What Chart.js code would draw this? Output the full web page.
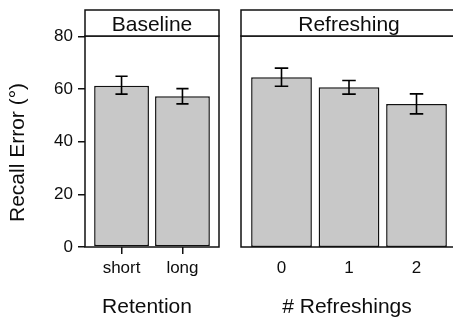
<!DOCTYPE html>
<html>
<head>
<meta charset="utf-8">
<script src="https://cdn.jsdelivr.net/npm/chart.js@4.4.1/dist/chart.umd.min.js"></script>
<style>
  html, body { margin: 0; padding: 0; background: #fff; overflow: hidden; }
  #wrap { position: relative; width: 453px; height: 320px; overflow: hidden; }
  #left { position: absolute; left: 0; top: 0; }
  #right { position: absolute; left: 230px; top: 0; }
</style>
</head>
<body>
<div id="wrap">
  <canvas id="left" width="230" height="320"></canvas>
  <canvas id="right" width="240" height="320"></canvas>
</div>
<script>
const retentionLabels = ['short', 'long'];
const retentionMeans = [61.3, 57.3];
const retentionLow = [58.1, 54.4];
const retentionHigh = [64.9, 60.2];

const refreshLabels = ['0', '1', '2'];
const refreshMeans = [64.5, 60.7, 54.4];
const refreshLow = [61.1, 58.1, 50.6];
const refreshHigh = [68.0, 63.3, 58.2];

const yTicks = [0, 20, 40, 60, 80];

const textColor = '#0d0d0d';
const tickFont = { family: '"Liberation Sans", Arial, sans-serif', size: 17 };
const bigFont = '21px "Liberation Sans", Arial, sans-serif';

// error bars, panel box, facet strip and axis titles
const facetPlugin = {
    id: 'facet',
    afterDatasetsDraw(chart, args, opts) {
        const { ctx, chartArea: a, scales: { x, y } } = chart;
        const half = x.getPixelForValue(0.1) - x.getPixelForValue(0);
        ctx.save();
        ctx.strokeStyle = '#000';
        ctx.lineWidth = 1.6;
        opts.low.forEach((lo, i) => {
            const px = x.getPixelForValue(i);
            const y1 = y.getPixelForValue(lo);
            const y2 = y.getPixelForValue(opts.high[i]);
            ctx.beginPath();
            ctx.moveTo(px, y1); ctx.lineTo(px, y2);
            ctx.moveTo(px - half, y1); ctx.lineTo(px + half, y1);
            ctx.moveTo(px - half, y2); ctx.lineTo(px + half, y2);
            ctx.stroke();
        });

        ctx.lineWidth = 1.5;
        ctx.strokeStyle = '#111';
        ctx.strokeRect(a.left, a.top, a.right - a.left, a.bottom - a.top);

        ctx.fillStyle = '#fff';
        ctx.fillRect(a.left, 10, a.right - a.left, a.top - 10);
        ctx.strokeRect(a.left, 10, a.right - a.left, a.top - 10);

        ctx.fillStyle = textColor;
        ctx.font = bigFont;
        ctx.textAlign = 'center';
        ctx.textBaseline = 'alphabetic';
        ctx.fillText(opts.strip, (a.left + a.right) / 2, 31);
        ctx.fillText(opts.xTitle, opts.xTitleX, 312.5);

        if (opts.yTitle) {
            ctx.translate(24, 152.5);
            ctx.rotate(-Math.PI / 2);
            ctx.fillText(opts.yTitle, 0, 0);
        }
        ctx.restore();
    }
};

function makePanel(id, labels, means, low, high, opts) {
    const ctx = document.getElementById(id).getContext('2d');
    return new Chart(ctx, {
        type: 'bar',
        data: {
            datasets: [{
                data: means.map((v, i) => ({ x: i, y: v })),
                backgroundColor: '#c8c8c8',
                borderColor: '#111',
                borderWidth: 1.5,
                borderSkipped: false,
                categoryPercentage: 1,
                barPercentage: 0.9
            }]
        },
        options: {
            responsive: false,
            animation: false,
            layout: { padding: opts.padding },
            plugins: {
                legend: { display: false },
                tooltip: { enabled: false },
                facet: {
                    low: low,
                    high: high,
                    strip: opts.strip,
                    xTitle: opts.xTitle,
                    xTitleX: opts.xTitleX,
                    yTitle: opts.yTitle
                }
            },
            scales: {
                x: {
                    type: 'linear',
                    min: -0.6,
                    max: labels.length - 0.4,
                    offset: false,
                    afterBuildTicks: (scale) => {
                        scale.ticks = labels.map((l, i) => ({ value: i }));
                    },
                    afterFit: (scale) => { scale.height = 73; },
                    grid: {
                        offset: false,
                        drawOnChartArea: false,
                        drawTicks: true,
                        tickLength: 7,
                        lineWidth: 1.5,
                        color: opts.xTickMarks ? '#111' : 'rgba(0,0,0,0)'
                    },
                    border: { display: false },
                    ticks: {
                        color: textColor,
                        font: tickFont,
                        padding: 4,
                        maxRotation: 0,
                        autoSkip: false,
                        callback: (v) => labels[v]
                    }
                },
                y: {
                    display: opts.showY,
                    min: 0,
                    max: 80.2,
                    afterBuildTicks: (scale) => {
                        scale.ticks = yTicks.map(v => ({ value: v }));
                    },
                    afterFit: (scale) => { scale.width = opts.showY ? 85 : 0; },
                    grid: {
                        drawOnChartArea: false,
                        drawTicks: true,
                        tickLength: 7,
                        lineWidth: 1.5,
                        color: '#111'
                    },
                    border: { display: false },
                    ticks: {
                        color: textColor,
                        font: tickFont,
                        padding: 5
                    }
                }
            }
        },
        plugins: [facetPlugin]
    });
}

makePanel('left', retentionLabels, retentionMeans, retentionLow, retentionHigh, {
    padding: { top: 36, right: 11, left: 0, bottom: 0 },
    strip: 'Baseline',
    xTitle: 'Retention',
    xTitleX: 147,
    yTitle: 'Recall Error (°)',
    showY: true,
    xTickMarks: true
});

makePanel('right', refreshLabels, refreshMeans, refreshLow, refreshHigh, {
    padding: { top: 36, right: 13, left: 11, bottom: 0 },
    strip: 'Refreshing',
    xTitle: '# Refreshings',
    xTitleX: 117,
    yTitle: null,
    showY: false,
    xTickMarks: false
});
</script>
</body>
</html>
